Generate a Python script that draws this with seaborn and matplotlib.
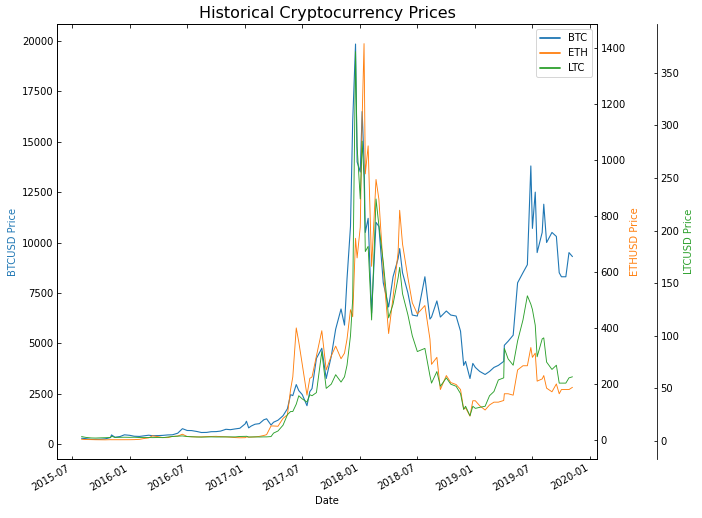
import pandas as pd
import numpy as np
import matplotlib
matplotlib.use('Agg')
import matplotlib.pyplot as plt
import matplotlib.dates as mdates
import seaborn as sns

# dat yo ak pri yo (li sou grafik la)
dates = ['2015-08-01', '2015-08-15', '2015-09-01', '2015-09-15', '2015-10-01', '2015-10-15',
         '2015-11-01', '2015-11-04', '2015-11-15', '2015-12-01', '2015-12-15',
         '2016-01-01', '2016-01-15', '2016-02-01', '2016-02-15', '2016-03-01', '2016-03-13',
         '2016-04-01', '2016-04-15', '2016-05-01', '2016-05-15', '2016-06-01', '2016-06-16',
         '2016-07-01', '2016-07-15', '2016-08-01', '2016-08-15', '2016-09-01', '2016-09-15',
         '2016-10-01', '2016-10-15', '2016-11-01', '2016-11-15', '2016-12-01', '2016-12-15',
         '2017-01-01', '2017-01-05', '2017-01-12', '2017-01-20', '2017-02-01', '2017-02-15',
         '2017-03-01', '2017-03-10', '2017-03-24', '2017-04-01', '2017-04-15', '2017-05-01',
         '2017-05-15', '2017-05-25', '2017-06-01', '2017-06-12', '2017-06-20', '2017-07-01',
         '2017-07-16', '2017-07-25', '2017-08-01', '2017-08-15', '2017-09-01', '2017-09-15',
         '2017-10-01', '2017-10-15', '2017-11-01', '2017-11-12', '2017-11-20', '2017-12-01',
         '2017-12-08', '2017-12-17', '2017-12-22',
         '2018-01-01', '2018-01-07', '2018-01-13', '2018-01-17', '2018-01-26', '2018-02-06',
         '2018-02-20', '2018-03-01', '2018-03-15', '2018-04-01', '2018-04-15', '2018-05-01',
         '2018-05-06', '2018-05-15', '2018-06-01', '2018-06-15', '2018-07-01', '2018-07-25',
         '2018-08-10', '2018-08-15', '2018-09-01', '2018-09-12', '2018-10-01', '2018-10-15',
         '2018-11-01', '2018-11-15', '2018-11-25', '2018-12-01', '2018-12-15', '2018-12-24',
         '2019-01-01', '2019-01-15', '2019-02-01', '2019-02-15', '2019-03-01', '2019-03-15',
         '2019-04-01', '2019-04-03', '2019-04-15', '2019-05-01', '2019-05-15', '2019-06-01',
         '2019-06-15', '2019-06-26', '2019-07-01', '2019-07-10', '2019-07-16', '2019-08-01',
         '2019-08-06', '2019-08-15', '2019-09-01', '2019-09-15', '2019-09-24', '2019-10-01',
         '2019-10-15', '2019-10-25', '2019-11-05']

btc = [285, 265, 230, 230, 237, 255, 320, 450, 335, 370, 455,
       430, 385, 375, 405, 435, 412, 417, 428, 450, 455, 535, 760,
       670, 665, 620, 570, 575, 610, 615, 640, 730, 710, 750, 780,
       1000, 1130, 800, 890, 980, 1010, 1200, 1250, 940, 1080, 1180, 1400,
       1750, 2450, 2400, 2950, 2650, 2450, 1900, 2600, 2750, 4250, 4750, 3250,
       4350, 5700, 6700, 5900, 8200, 10800, 16000, 19850, 14000,
       13500, 16500, 14000, 10500, 11200, 6500, 11000, 10800, 8000, 6800, 8300, 9200,
       9700, 8500, 7500, 6400, 6350, 8300, 6200, 6300, 7100, 6300, 6600, 6400,
       6350, 5600, 3900, 4100, 3250, 4000,
       3800, 3600, 3450, 3600, 3800, 3900, 4100, 4900, 5100, 5400, 8000, 8500,
       8900, 13800, 10700, 12500, 9500, 10500, 11900, 10000, 10500, 10300, 8500, 8300,
       8300, 9500, 9300]

eth = [2.5, 1.6, 1.3, 0.9, 0.7, 0.55, 1.0, 0.9, 0.9, 0.85, 0.9,
       0.95, 1.2, 2.3, 5.2, 7.5, 15, 11.5, 8.5, 8.5, 12.5, 14, 20.5,
       12.5, 11.5, 11, 11, 12, 12.5, 13, 12, 11, 10, 8.5, 7.8,
       8.2, 11, 10, 10.5, 10.8, 12.8, 16, 19, 50, 50, 49, 77,
       90, 180, 225, 400, 350, 270, 160, 220, 225, 300, 390, 250,
       300, 335, 290, 310, 360, 465, 440, 720, 650,
       760, 1150, 1415, 950, 1050, 620, 930, 860, 610, 380, 510, 670,
       820, 700, 580, 490, 450, 480, 360, 270, 295, 180, 230, 205,
       198, 180, 110, 115, 85, 140,
       140, 122, 107, 125, 135, 135, 141, 165, 165, 160, 250, 265,
       265, 330, 295, 310, 210, 218, 230, 185, 172, 200, 165, 180,
       180, 180, 188]

ltc = [4.2, 3.4, 2.9, 2.8, 3.0, 3.1, 3.3, 4.5, 3.4, 3.5, 3.6,
       3.5, 3.6, 3.3, 3.4, 3.3, 3.2, 3.3, 3.2, 3.8, 4.3, 4.6, 4.8,
       4.2, 4.0, 3.8, 3.7, 3.8, 3.9, 3.8, 3.8, 3.9, 3.9, 3.9, 4.3,
       4.4, 4.5, 3.8, 3.8, 3.9, 3.8, 3.9, 3.9, 4.2, 7.5, 9.5, 15,
       25, 28, 28, 35, 43, 40, 37, 44, 43, 46, 85, 50,
       54, 63, 56, 61, 72, 100, 135, 370, 280,
       230, 285, 250, 180, 185, 115, 230, 205, 170, 117, 130, 155,
       165, 140, 120, 100, 85, 88, 62, 55, 66, 52, 60, 54,
       52, 45, 30, 33, 24, 33,
       31, 32, 33, 43, 47, 58, 60, 88, 78, 72, 95, 115,
       138, 130, 125, 110, 80, 97, 98, 75, 68, 72, 55, 55,
       55, 60, 61]

df = pd.DataFrame({'Date': pd.to_datetime(dates), 'BTC': btc, 'ETH': eth, 'LTC': ltc})

sns.set_style('ticks', rc={'xtick.direction': 'in', 'ytick.direction': 'in',
                           'xtick.top': True, 'axes.edgecolor': 'black',
                           'text.color': 'black', 'axes.labelcolor': 'black',
                           'xtick.color': 'black', 'ytick.color': 'black'})
plt.rcParams['font.family'] = ['DejaVu Sans']

fig = plt.figure(figsize=(702 / 72, 518 / 72), dpi=72)
ax = fig.add_axes([57 / 702, 1 - 459.3 / 518, 540 / 702, 435 / 518])
ax2 = ax.twinx()
ax3 = ax.twinx()
ax3.spines['right'].set_position(('outward', 60))

sns.lineplot(data=df, x='Date', y='BTC', ax=ax, color='tab:blue', lw=1.1)
sns.lineplot(data=df, x='Date', y='ETH', ax=ax2, color='tab:orange', lw=0.9)
sns.lineplot(data=df, x='Date', y='LTC', ax=ax3, color='tab:green', lw=0.9)

ax.set_ylim(-760, 20830)
ax2.set_ylim(-69, 1484)
ax3.set_ylim(-17.4, 396)

ax.xaxis.set_major_locator(mdates.MonthLocator(bymonth=[1, 7]))
ax.xaxis.set_major_formatter(mdates.DateFormatter('%Y-%m'))
plt.setp(ax.get_xticklabels(), rotation=30, ha='right')

ax.set_xlabel('Date')
ax.set_ylabel('BTCUSD Price', color='tab:blue')
ax2.set_ylabel('ETHUSD Price', color='tab:orange')
ax3.set_ylabel('LTCUSD Price', color='tab:green')
ax.set_title('Historical Cryptocurrency Prices', fontsize=16)

handles = [ax.lines[0], ax2.lines[0], ax3.lines[0]]
leg = ax3.legend(handles, ['BTC', 'ETH', 'LTC'], loc='upper right')
for ln in leg.get_lines():
    ln.set_linewidth(1.8)

fig.savefig('out.png', dpi=72)
